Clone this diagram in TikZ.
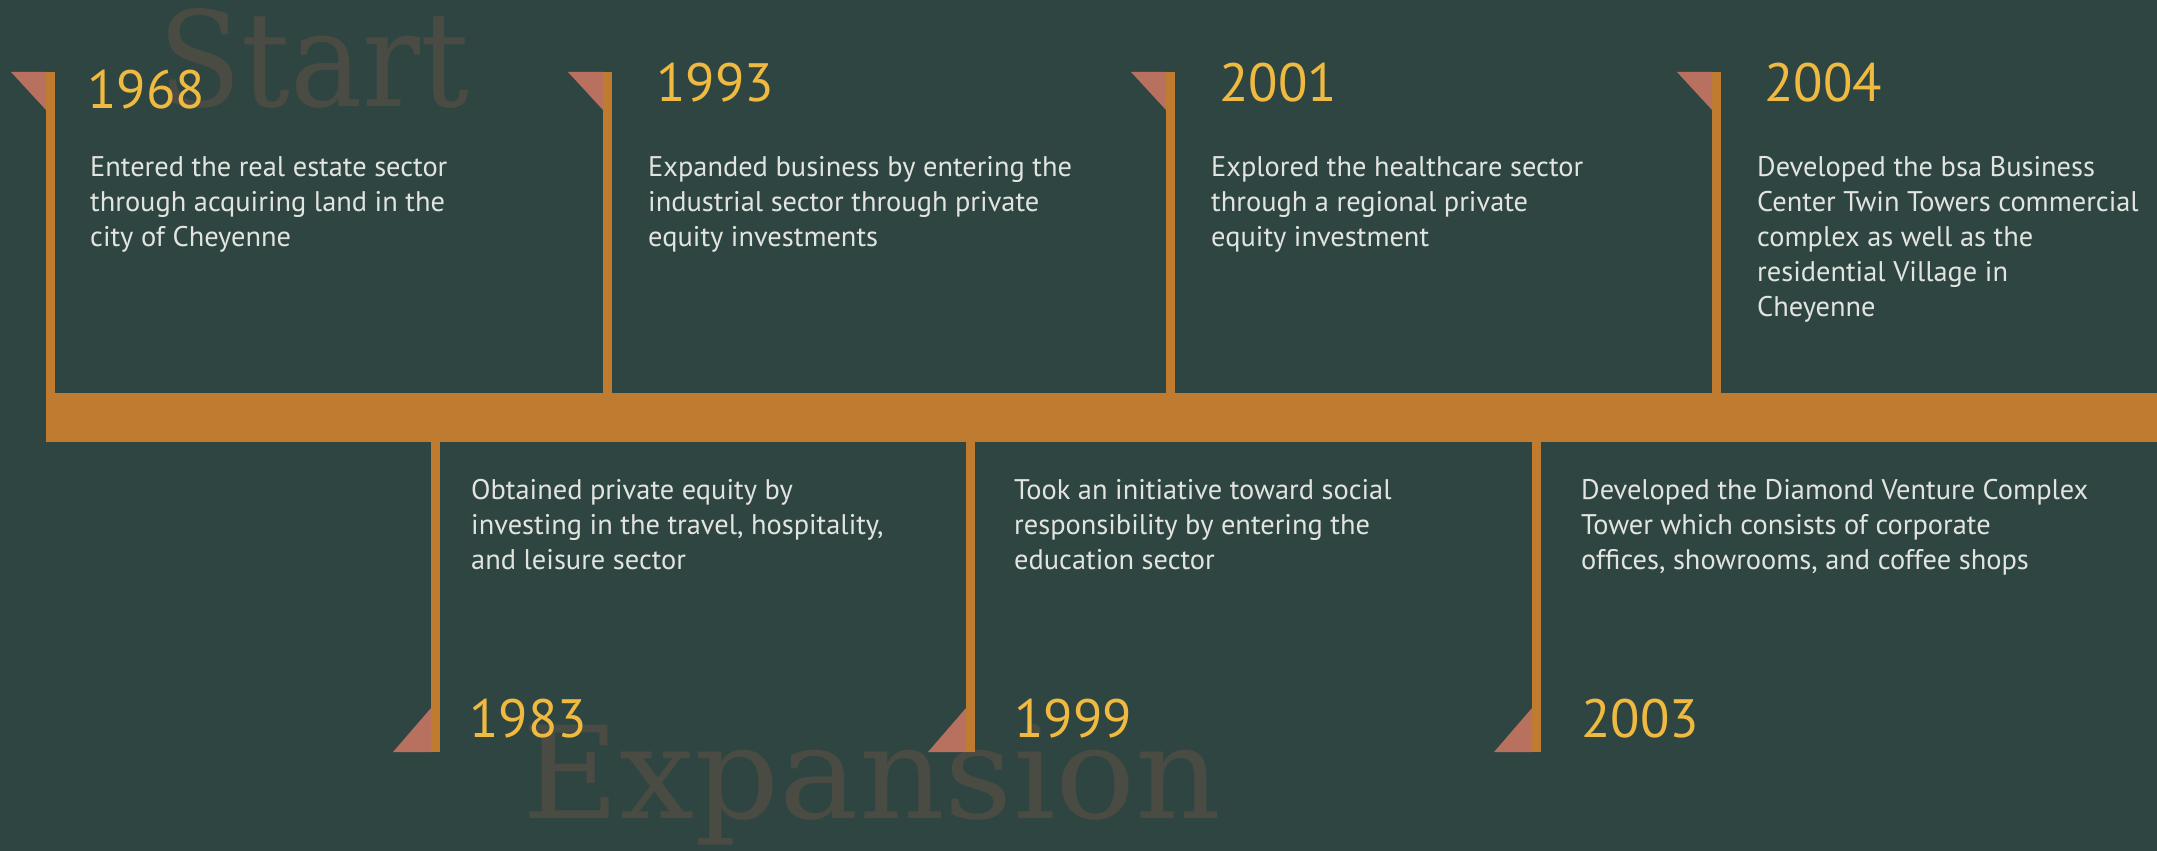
\documentclass[tikz,border=0pt]{standalone}
\usepackage{fontspec}
\setmainfont{PT Sans}
\newfontfamily\slabfont{DejaVu Serif}
\definecolor{bg}{HTML}{2F4542}
\definecolor{bar}{HTML}{BF7B30}
\definecolor{flag}{HTML}{B8705F}
\definecolor{yr}{HTML}{F0B940}
\definecolor{txt}{HTML}{E2E4E0}
\definecolor{wm}{HTML}{4A4C44}
\newcommand{\blurb}[1]{\parbox[t]{640pt}{\raggedright\fontsize{28.4}{35}\selectfont #1}}

\begin{document}
\begin{tikzpicture}[x=1pt, y=-1pt,
	yearlbl/.style={anchor=base west, inner sep=0pt, text=yr, font=\fontsize{54}{60}\selectfont},
	desc/.style={anchor=base west, inner sep=0pt, text=txt},
	ghost/.style={anchor=base west, inner sep=0pt, text=wm, font=\slabfont\fontsize{132}{140}\selectfont}]
	\fill[bg] (0,0) rectangle (2157,851);
	\useasboundingbox (0,0) rectangle (2157,851);
	
	% watermarks
	\node[ghost] (start) at (158,106) {\scalebox{0.92}[1]{Start}};
	\node[ghost, font=\slabfont\fontsize{128}{140}\selectfont] (expansion) at (522,818) {\scalebox{1.04}[1]{Expansion}};
	
	% main bar
	\fill[bar] (46,393) rectangle (2157,442);
	
	% poles above
	\foreach \x in {46,603,1166,1712}{
		\fill[flag] (\x-35,72) -- (\x,72) -- (\x,110) -- cycle;
		\fill[bar] (\x,72) rectangle (\x+9,393);
	}
	% poles below
	\foreach \x in {431,966,1532}{
		\fill[flag] (\x-38,752) -- (\x,752) -- (\x,708) -- cycle;
		\fill[bar] (\x,442) rectangle (\x+9,752);
	}
	
	\node[yearlbl] (y1968) at (87,108) {1968};
	\node[desc] (d1968) at (90,176) {\blurb{Entered the real estate sector\\through acquiring land in the\\city of Cheyenne}};
	
	\node[yearlbl] (y1993) at (656,101) {1993};
	\node[desc] (d1993) at (648,176) {\blurb{Expanded business by entering the\\industrial sector through private\\equity investments}};
	
	\node[yearlbl] (y2001) at (1219,101) {2001};
	\node[desc] (d2001) at (1211,176) {\blurb{Explored the healthcare sector\\through a regional private\\equity investment}};
	
	\node[yearlbl] (y2004) at (1764,101) {2004};
	\node[desc] (d2004) at (1757,176) {\blurb{Developed the bsa Business\\Center Twin Towers commercial\\complex as well as the\\residential Village in\\Cheyenne}};
	
	\node[desc] (d1983) at (471,499) {\blurb{Obtained private equity by\\investing in the travel, hospitality,\\and leisure sector}};
	\node[yearlbl] (y1983) at (469,737) {1983};
	
	\node[desc] (d1999) at (1014,499) {\blurb{Took an initiative toward social\\responsibility by entering the\\education sector}};
	\node[yearlbl] (y1999) at (1014,737) {1999};
	
	\node[desc] (d2003) at (1581,499) {\blurb{Developed the Diamond Venture Complex\\Tower which consists of corporate\\offices, showrooms, and coffee shops}};
	\node[yearlbl] (y2003) at (1581,737) {2003};
\end{tikzpicture}
\end{document}
